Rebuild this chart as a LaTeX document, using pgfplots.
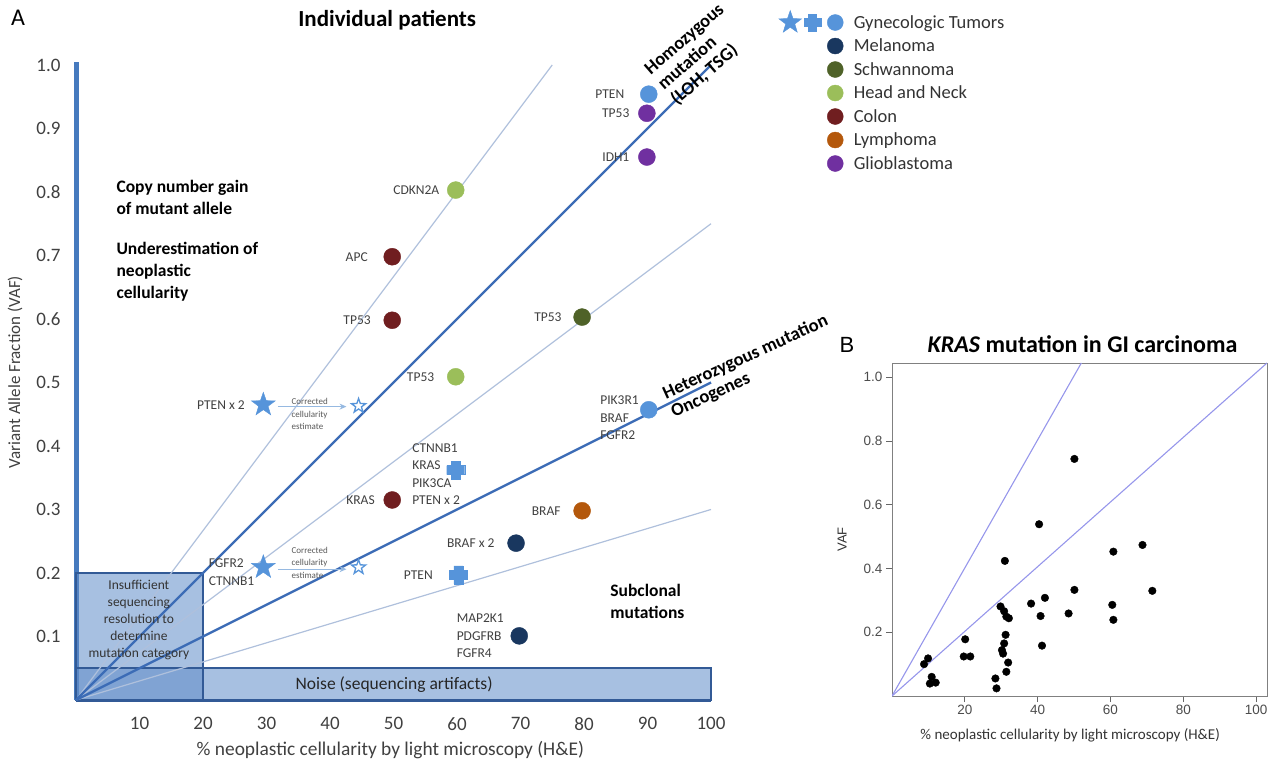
\documentclass[border=0pt]{standalone}
\usepackage{fontspec}
\setmainfont{Carlito}
\newfontfamily\arial{Liberation Sans}
\usepackage{pgfplots}
\pgfplotsset{compat=1.18}
\usetikzlibrary{arrows.meta}

\definecolor{gyn}{RGB}{86,148,218}
\definecolor{melan}{RGB}{25,55,95}
\definecolor{schw}{RGB}{79,98,40}
\definecolor{hn}{RGB}{155,190,90}
\definecolor{colon}{RGB}{112,30,32}
\definecolor{lymph}{RGB}{180,88,12}
\definecolor{gbm}{RGB}{112,48,160}
\definecolor{axblue}{RGB}{70,122,190}
\definecolor{darkline}{RGB}{60,108,182}
\definecolor{lightline}{RGB}{175,192,220}
\definecolor{boxfill}{RGB}{95,140,200}
\definecolor{boxedge}{RGB}{50,90,150}
\definecolor{txtgray}{RGB}{64,64,64}
\definecolor{bline}{RGB}{150,150,235}
\definecolor{arrowc}{RGB}{150,185,225}

\pgfdeclareplotmark{fivestar}{%
 \pgfpathmoveto{\pgfpointpolar{90}{\pgfplotmarksize}}%
 \pgfpathlineto{\pgfpointpolar{126}{0.4\pgfplotmarksize}}%
 \pgfpathlineto{\pgfpointpolar{162}{\pgfplotmarksize}}%
 \pgfpathlineto{\pgfpointpolar{198}{0.4\pgfplotmarksize}}%
 \pgfpathlineto{\pgfpointpolar{234}{\pgfplotmarksize}}%
 \pgfpathlineto{\pgfpointpolar{270}{0.4\pgfplotmarksize}}%
 \pgfpathlineto{\pgfpointpolar{306}{\pgfplotmarksize}}%
 \pgfpathlineto{\pgfpointpolar{342}{0.4\pgfplotmarksize}}%
 \pgfpathlineto{\pgfpointpolar{18}{\pgfplotmarksize}}%
 \pgfpathlineto{\pgfpointpolar{54}{0.4\pgfplotmarksize}}%
 \pgfpathclose\pgfusepathqfillstroke}
\pgfdeclareplotmark{fatplus}{%
 \pgfpathmoveto{\pgfpoint{-0.5\pgfplotmarksize}{\pgfplotmarksize}}%
 \pgfpathlineto{\pgfpoint{0.5\pgfplotmarksize}{\pgfplotmarksize}}%
 \pgfpathlineto{\pgfpoint{0.5\pgfplotmarksize}{0.5\pgfplotmarksize}}%
 \pgfpathlineto{\pgfpoint{\pgfplotmarksize}{0.5\pgfplotmarksize}}%
 \pgfpathlineto{\pgfpoint{\pgfplotmarksize}{-0.5\pgfplotmarksize}}%
 \pgfpathlineto{\pgfpoint{0.5\pgfplotmarksize}{-0.5\pgfplotmarksize}}%
 \pgfpathlineto{\pgfpoint{0.5\pgfplotmarksize}{-\pgfplotmarksize}}%
 \pgfpathlineto{\pgfpoint{-0.5\pgfplotmarksize}{-\pgfplotmarksize}}%
 \pgfpathlineto{\pgfpoint{-0.5\pgfplotmarksize}{-0.5\pgfplotmarksize}}%
 \pgfpathlineto{\pgfpoint{-\pgfplotmarksize}{-0.5\pgfplotmarksize}}%
 \pgfpathlineto{\pgfpoint{-\pgfplotmarksize}{0.5\pgfplotmarksize}}%
 \pgfpathlineto{\pgfpoint{-0.5\pgfplotmarksize}{0.5\pgfplotmarksize}}%
 \pgfpathclose\pgfusepathqfillstroke}

\newcommand{\gene}{\fontsize{13.5}{17.5}\selectfont}
\newcommand{\bnote}{\bfseries\fontsize{17.5}{22}\selectfont}
\newcommand{\rnote}{\bfseries\fontsize{18.5}{20}\selectfont}

\begin{document}
\begin{tikzpicture}
\useasboundingbox (0,0) rectangle (1273pt,768pt);
\node[anchor=center, font=\fontsize{24}{26}\selectfont] at (18pt,750pt) {A};

% ================= Panel A =================
\begin{axis}[
  at={(76pt,68pt)}, anchor=south west, scale only axis,
  width=635pt, height=638.2pt,
  xmin=0, xmax=100, ymin=0, ymax=1.005,
  axis x line=bottom, axis y line=left,
  x axis line style={-, line width=3pt, draw=boxedge},
  y axis line style={-, line width=5pt, draw=axblue},
  xtick={10,20,...,100}, ytick={0.1,0.2,...,1.0},
  major tick length=0pt,
  /pgf/number format/assume math mode=true,
  yticklabel style={/pgf/number format/fixed, /pgf/number format/fixed zerofill, /pgf/number format/precision=1},
  tick label style={font=\fontsize{19}{21}\selectfont, text=txtgray},
  xticklabel style={yshift=-14pt},
  yticklabel style={xshift=-12pt},
  clip=false,
  title={Individual patients},
  title style={at={(axis description cs:0.49,1.055)}, anchor=center, font=\bfseries\fontsize{23}{25}\selectfont},
  xlabel={\% neoplastic cellularity by light microscopy (H\&E)},
  xlabel style={at={(axis description cs:0.495,-0.078)}, anchor=center, font=\fontsize{19.4}{21}\selectfont, text=txtgray},
  ylabel={Variant Allele Fraction (VAF)},
  ylabel style={at={(axis description cs:-0.096,0.514)}, anchor=center, font=\fontsize{17}{19}\selectfont, text=txtgray},
  legend cell align=left,
  legend style={at={(1.104,1.081)}, anchor=north west, draw=none, fill=none, inner sep=0pt,
    row sep=3.5pt, column sep=8pt, font=\fontsize{18.5}{20}\selectfont, text=black!80,
    nodes={inner sep=1.5pt, draw=none}},
]
% shaded regions
\fill[boxfill, fill opacity=0.55] (axis cs:0,0) rectangle (axis cs:20,0.2);
\fill[boxfill, fill opacity=0.55] (axis cs:0,0) rectangle (axis cs:100,0.05);
\draw[boxedge, line width=1.5pt] (axis cs:0,0) rectangle (axis cs:20,0.2);
\draw[boxedge, line width=1.5pt] (axis cs:0,0) rectangle (axis cs:100,0.05);

% expected-VAF lines
\addplot[lightline, line width=1.2pt, forget plot] coordinates {(0,0) (75,1)};
\addplot[lightline, line width=1.2pt, forget plot] coordinates {(0,0) (100,0.75)};
\addplot[lightline, line width=1.2pt, forget plot] coordinates {(0,0) (100,0.3)};
\addplot[darkline, line width=2.4pt, forget plot] coordinates {(0,0) (100,1)};
\addplot[darkline, line width=2.4pt, forget plot] coordinates {(0,0) (100,0.5)};

% correction arrows
\draw[-{Stealth[length=7pt,width=6pt]}, arrowc, line width=1.2pt] (axis cs:31.8,0.462) -- (axis cs:42.6,0.462);
\draw[-{Stealth[length=7pt,width=6pt]}, arrowc, line width=1.2pt] (axis cs:31.8,0.206) -- (axis cs:42.6,0.206);

% data: gynecologic tumors
\addplot[only marks, mark=*, mark size=8.5pt, color=gyn, forget plot] coordinates {(90.2,0.954) (90.2,0.457)};
\addplot[only marks, mark=fatplus, mark size=9pt, color=gyn, forget plot] coordinates {(59.8,0.362) (60.2,0.197)};
\addplot[only marks, mark=fivestar, mark size=12.5pt, color=gyn, forget plot] coordinates {(29.5,0.465) (29.5,0.209)};
\addplot[only marks, mark=fivestar, mark size=7.5pt, draw=gyn, fill=white, line width=1.3pt, forget plot] coordinates {(44.5,0.463) (44.5,0.209)};
% melanoma
\addplot[only marks, mark=*, mark size=8.5pt, color=melan, forget plot] coordinates {(69.3,0.247) (69.8,0.101)};
% schwannoma
\addplot[only marks, mark=*, mark size=8.5pt, color=schw, forget plot] coordinates {(79.7,0.603)};
% head and neck
\addplot[only marks, mark=*, mark size=8.5pt, color=hn, forget plot] coordinates {(59.8,0.803) (59.8,0.509)};
% colon
\addplot[only marks, mark=*, mark size=8.5pt, color=colon, forget plot] coordinates {(49.8,0.698) (49.8,0.598) (49.8,0.315)};
% lymphoma
\addplot[only marks, mark=*, mark size=8.5pt, color=lymph, forget plot] coordinates {(79.7,0.298)};
% glioblastoma
\addplot[only marks, mark=*, mark size=8.5pt, color=gbm, forget plot] coordinates {(89.9,0.924) (89.9,0.855)};

% gene labels
\begin{scope}[every node/.style={font=\gene, text=txtgray}]
\node[anchor=east, xshift=-21pt] at (axis cs:90.2,0.954) {PTEN};
\node[anchor=east, xshift=-14pt] at (axis cs:89.9,0.924) {TP53};
\node[anchor=east, xshift=-14pt] at (axis cs:89.9,0.855) {IDH1};
\node[anchor=east, xshift=-13pt] at (axis cs:59.8,0.803) {CDKN2A};
\node[anchor=east, xshift=-21pt] at (axis cs:49.8,0.698) {APC};
\node[anchor=east, xshift=-18pt] at (axis cs:49.8,0.598) {TP53};
\node[anchor=east, xshift=-17pt] at (axis cs:79.7,0.603) {TP53};
\node[anchor=east, xshift=-18pt] at (axis cs:59.8,0.509) {TP53};
\node[anchor=east, xshift=-14pt] at (axis cs:49.8,0.315) {KRAS};
\node[anchor=east, xshift=-18pt] at (axis cs:79.7,0.298) {BRAF};
\node[anchor=east, xshift=-18pt] at (axis cs:69.3,0.247) {BRAF x 2};
\node[anchor=east, xshift=-22pt] at (axis cs:60.2,0.197) {PTEN};
\node[anchor=east, xshift=-15pt] at (axis cs:29.5,0.465) {PTEN x 2};
\node[anchor=west, align=left, xshift=-58pt, yshift=-5pt] at (axis cs:29.5,0.209) {FGFR2\\CTNNB1};
\node[anchor=west, align=left, xshift=-52pt, yshift=-8pt] at (axis cs:90.2,0.457) {PIK3R1\\BRAF\\FGFR2};
\node[anchor=west, align=left, xshift=-47pt, yshift=-4pt] at (axis cs:59.8,0.362) {CTNNB1\\KRAS\\PIK3CA\\PTEN x 2};
\node[anchor=west, align=left, xshift=-66pt, yshift=0pt] at (axis cs:69.8,0.101) {MAP2K1\\PDGFRB\\FGFR4};
\end{scope}

% corrected cellularity notes
\node[anchor=west, align=left, font=\fontsize{9}{12.5}\selectfont, text=black!65] at (axis cs:33.4,0.450) {Corrected\\cellularity\\estimate};
\node[anchor=west, align=left, font=\fontsize{9}{12.5}\selectfont, text=black!65] at (axis cs:33.4,0.216) {Corrected\\cellularity\\estimate};

% region annotations
\node[anchor=west, align=left, font=\bnote] at (axis cs:5.83,0.792) {Copy number gain\\of mutant allele};
\node[anchor=west, align=left, font=\bnote] at (axis cs:5.83,0.674) {Underestimation of\\neoplastic\\cellularity};
\node[anchor=west, align=left, font=\bnote] at (axis cs:83.6,0.156) {Subclonal\\mutations};
\node[anchor=center, align=center, font=\fontsize{13.5}{17}\selectfont, text=black!80] at (axis cs:9.9,0.126) {Insufficient\\sequencing\\resolution to\\determine\\mutation category};
\node[anchor=center, font=\fontsize{17.5}{20}\selectfont, text=black!85] at (axis cs:50.1,0.025) {Noise (sequencing artifacts)};
\node[anchor=center, align=left, rotate=41, font=\rnote] at (axis cs:97.95,1.0157) {Homozygous\\mutation\\(LOH, TSG)};
\node[anchor=center, align=left, rotate=24.5, font=\rnote] at (axis cs:106.1,0.525) {Heterozygous mutation\\Oncogenes};

% legend
\addlegendimage{legend image code/.code={\path[draw=none,fill=none] (-58pt,-10pt) rectangle (9pt,10pt);
  \fill[gyn] (-45pt,0pt) +(90:12pt) -- +(126:4.8pt) -- +(162:12pt) -- +(198:4.8pt) -- +(234:12pt) -- +(270:4.8pt) -- +(306:12pt) -- +(342:4.8pt) -- +(18:12pt) -- +(54:4.8pt) -- cycle;
  \fill[gyn] (-23pt,0pt) +(-4pt,-8.5pt) rectangle +(4pt,8.5pt);
  \fill[gyn] (-23pt,0pt) +(-8.5pt,-4pt) rectangle +(8.5pt,4pt);
  \fill[gyn] (0,0) circle (8pt);}}
\addlegendentry{Gynecologic Tumors}
\addlegendimage{legend image code/.code={\path[draw=none,fill=none] (-58pt,-10pt) rectangle (9pt,10pt);\fill[melan] (0,0) circle (8pt);}}
\addlegendentry{Melanoma}
\addlegendimage{legend image code/.code={\path[draw=none,fill=none] (-58pt,-10pt) rectangle (9pt,10pt);\fill[schw] (0,0) circle (8pt);}}
\addlegendentry{Schwannoma}
\addlegendimage{legend image code/.code={\path[draw=none,fill=none] (-58pt,-10pt) rectangle (9pt,10pt);\fill[hn] (0,0) circle (8pt);}}
\addlegendentry{Head and Neck}
\addlegendimage{legend image code/.code={\path[draw=none,fill=none] (-58pt,-10pt) rectangle (9pt,10pt);\fill[colon] (0,0) circle (8pt);}}
\addlegendentry{Colon}
\addlegendimage{legend image code/.code={\path[draw=none,fill=none] (-58pt,-10pt) rectangle (9pt,10pt);\fill[lymph] (0,0) circle (8pt);}}
\addlegendentry{Lymphoma}
\addlegendimage{legend image code/.code={\path[draw=none,fill=none] (-58pt,-10pt) rectangle (9pt,10pt);\fill[gbm] (0,0) circle (8pt);}}
\addlegendentry{Glioblastoma}
\end{axis}

% ================= Panel B =================
\node[anchor=center, font=\arial\fontsize{22}{24}\selectfont] at (847pt,423pt) {B};
\begin{axis}[
  at={(892pt,72pt)}, anchor=south west, scale only axis,
  width=375pt, height=333pt,
  xmin=0, xmax=103, ymin=0, ymax=1.045,
  axis line style={draw=black!50, line width=0.8pt},
  xtick={20,40,...,100}, ytick={0.2,0.4,...,1.0},
  tick pos=left, tick align=outside,
  major tick length=6pt,
  tick style={draw=black!60, line width=0.8pt},
  /pgf/number format/assume math mode=true,
  yticklabel style={/pgf/number format/fixed, /pgf/number format/fixed zerofill, /pgf/number format/precision=1},
  tick label style={font=\arial\fontsize{13.5}{15}\selectfont, text=black!70},
  title={\textit{KRAS} mutation in GI carcinoma},
  title style={at={(axis description cs:0.508,1.038)}, anchor=center, font=\bfseries\fontsize{24}{26}\selectfont},
  xlabel={\% neoplastic cellularity by light microscopy (H\&E)},
  xlabel style={at={(axis description cs:0.475,-0.117)}, anchor=center, font=\fontsize{15}{17}\selectfont, text=black!80},
  ylabel={VAF},
  ylabel style={at={(axis description cs:-0.133,0.47)}, anchor=center, font=\arial\fontsize{13}{15}\selectfont, text=black!80},
]
\addplot[bline, line width=1.1pt] coordinates {(0,0) (103,1.045)};
\addplot[bline, line width=1.1pt] coordinates {(0,0) (52,1.045)};
\addplot[only marks, mark=*, mark size=3.8pt, color=black] coordinates {
(8.8,0.100) (9.9,0.118) (10.9,0.060) (10.4,0.039) (12.0,0.042)
(20.1,0.178) (19.7,0.124) (21.5,0.124)
(28.4,0.055) (28.7,0.024) (29.8,0.281) (31.0,0.424) (30.8,0.266) (31.4,0.249) (32.1,0.244)
(31.2,0.192) (30.8,0.165) (30.2,0.144) (30.5,0.133) (31.9,0.105) (31.4,0.076)
(38.2,0.290) (40.4,0.539) (40.8,0.251) (41.2,0.158) (42.0,0.308)
(48.5,0.259) (50.1,0.744) (50.1,0.333)
(60.8,0.453) (60.5,0.286) (60.8,0.239)
(68.8,0.474) (71.5,0.330)};
\end{axis}
\end{tikzpicture}
\end{document}
